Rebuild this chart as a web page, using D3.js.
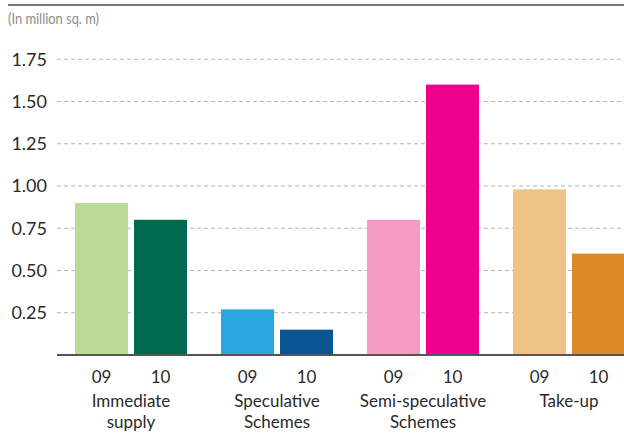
<!DOCTYPE html>
<html>
<head>
<meta charset="utf-8">
<script src="https://cdn.jsdelivr.net/npm/d3@7"></script>
<style>
  body { margin: 0; background: #fff; }
  text { font-family: Lato, "Open Sans", sans-serif; fill: #2a2a2a; }
</style>
</head>
<body>
<svg></svg>
<script>
const width = 624;
const height = 437;

const categories = ["Immediate supply", "Speculative Schemes", "Semi-speculative Schemes", "Take-up"];
const years = ["09", "10"];
const values09 = [0.90, 0.27, 0.80, 0.98];
const values10 = [0.80, 0.15, 1.60, 0.60];
const colors09 = ["#badb95", "#29a8e0", "#f49ac3", "#efc387"];
const colors10 = ["#006a50", "#0c5593", "#ec008c", "#db8a26"];
const yTicks = [0.25, 0.5, 0.75, 1.0, 1.25, 1.5, 1.75];

const svg = d3.select("svg")
  .attr("width", width)
  .attr("height", height);

const baseY = 355;
const y = d3.scaleLinear().domain([0, 1]).range([baseY, baseY - 169]);

const x0 = d3.scaleBand().domain(categories).range([58, 642]);
const x1 = d3.scaleBand().domain(years).range([0, x0.bandwidth()])
  .paddingInner(6 / 59)
  .paddingOuter(0.288);

// top rule
svg.append("line")
  .attr("x1", 8).attr("x2", width)
  .attr("y1", 5).attr("y2", 5)
  .attr("stroke", "#777")
  .attr("stroke-width", 2);

svg.append("text")
  .attr("x", 8)
  .attr("y", 24)
  .attr("textLength", 91)
  .attr("lengthAdjust", "spacingAndGlyphs")
  .style("font-size", "15px")
  .style("fill", "#8c8c8c")
  .text("(In million sq. m)");

// gridlines
svg.append("g")
  .selectAll("line")
  .data(yTicks)
  .enter()
  .append("line")
  .attr("x1", 57).attr("x2", width)
  .attr("y1", d => y(d)).attr("y2", d => y(d))
  .attr("stroke", "#b5b5b5")
  .attr("stroke-width", 1)
  .attr("stroke-dasharray", "4,3");

svg.append("g")
  .selectAll("text")
  .data(yTicks)
  .enter()
  .append("text")
  .attr("x", 47)
  .attr("y", d => y(d))
  .attr("dy", "0.35em")
  .attr("text-anchor", "end")
  .style("font-size", "18px")
  .text(d => d3.format(".2f")(d));

// bars
const groups = svg.append("g")
  .selectAll("g")
  .data(categories.map((c, i) => ({
    name: c,
    bars: [
      { year: "09", value: values09[i], color: colors09[i] },
      { year: "10", value: values10[i], color: colors10[i] }
    ]
  })))
  .enter()
  .append("g")
  .attr("transform", d => `translate(${x0(d.name)},0)`);

groups.selectAll("rect")
  .data(d => d.bars)
  .enter()
  .append("rect")
  .attr("x", d => x1(d.year))
  .attr("width", x1.bandwidth())
  .attr("y", d => y(d.value))
  .attr("height", d => baseY - y(d.value))
  .attr("fill", d => d.color);

groups.selectAll("text.year")
  .data(d => d.bars)
  .enter()
  .append("text")
  .attr("class", "year")
  .attr("x", d => x1(d.year) + x1.bandwidth() / 2)
  .attr("y", 383)
  .attr("text-anchor", "middle")
  .style("font-size", "17px")
  .text(d => d.year);

// category labels, wrapped on two lines
const catLines = {
  "Immediate supply": ["Immediate", "supply"],
  "Speculative Schemes": ["Speculative", "Schemes"],
  "Semi-speculative Schemes": ["Semi-speculative", "Schemes"],
  "Take-up": ["Take-up"]
};

groups.append("text")
  .attr("x", x0.bandwidth() / 2)
  .attr("y", 407)
  .attr("text-anchor", "middle")
  .style("font-size", "17px")
  .selectAll("tspan")
  .data(d => catLines[d.name])
  .enter()
  .append("tspan")
  .attr("x", x0.bandwidth() / 2)
  .attr("dy", (d, i) => i === 0 ? 0 : 21)
  .text(d => d);

// baseline
svg.append("line")
  .attr("x1", 57).attr("x2", width)
  .attr("y1", baseY).attr("y2", baseY)
  .attr("stroke", "#555")
  .attr("stroke-width", 2);
</script>
</body>
</html>
